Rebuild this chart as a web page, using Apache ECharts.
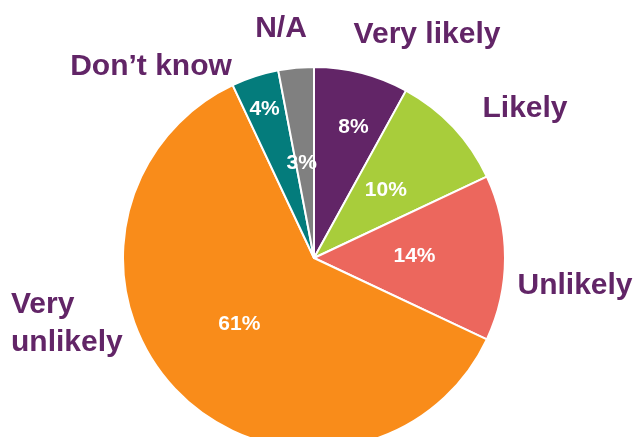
<!DOCTYPE html>
<html>
<head>
<meta charset="utf-8">
<script src="https://cdn.jsdelivr.net/npm/echarts@6/dist/echarts.min.js"></script>
<style>
  html, body { margin: 0; padding: 0; background: #fff; }
  #chart { width: 634px; height: 437px; }
</style>
</head>
<body>
<div id="chart"></div>
<script>
// answers, clockwise from 12 o'clock
const categories = ['Very likely', 'Likely', 'Unlikely', 'Very\nunlikely', 'Don\u2019t know', 'N/A']
const shares = [8, 10, 14, 61, 4, 3]
const colors = ['#622567', '#a8cd3b', '#ec675d', '#f98c1a', '#047c7c', '#808080']

// where the category names sit (text only, not marks)
const nameSpots = [
  { x: 427, y: 35, align: 'center' },
  { x: 525, y: 109, align: 'center' },
  { x: 575, y: 286, align: 'center' },
  { x: 11, y: 324, align: 'left' },
  { x: 151, y: 67, align: 'center' },
  { x: 281, y: 29, align: 'center' }
]
// nudges for the % labels that sit further out
const pctNudge = [[15, -35], [0, 0], [2, -2], [-5, -3], [-19, -55], [-3, 3]]

const chart = echarts.init(document.getElementById('chart'))

const pieData = categories.map((name, i) => ({
  name: name,
  value: shares[i],
  itemStyle: { color: colors[i] }
}))

chart.setOption({
  backgroundColor: '#fff',
  animation: false,
  series: [{
    type: 'pie',
    center: [314, 258],
    radius: 191,
    startAngle: 90,
    clockwise: true,
    itemStyle: {
      borderColor: '#fff',
      borderWidth: 2
    },
    label: {
      show: true,
      position: 'inside',
      color: '#fff',
      fontFamily: 'Liberation Sans, Arial, sans-serif',
      fontWeight: 'bold',
      fontSize: 21,
      formatter(p) {
        return p.value + '%'
      }
    },
    labelLayout(p) {
      return { dx: pctNudge[p.dataIndex][0], dy: pctNudge[p.dataIndex][1] }
    },
    emphasis: { disabled: true },
    data: pieData
  }, {
    type: 'pie',
    center: [314, 258],
    radius: 191,
    startAngle: 90,
    clockwise: true,
    silent: true,
    z: 1,
    itemStyle: { color: 'rgba(0,0,0,0)' },
    label: {
      show: true,
      position: 'outside',
      overflow: 'none',
      color: '#622567',
      fontFamily: 'Liberation Sans, Arial, sans-serif',
      fontWeight: 'bold',
      fontSize: 30,
      lineHeight: 38,
      formatter: '{b}'
    },
    labelLine: { show: false },
    labelLayout(p) {
      const s = nameSpots[p.dataIndex]
      return { x: s.x, y: s.y, align: s.align, verticalAlign: 'middle' }
    },
    data: categories.map((name, i) => ({ name: name, value: shares[i] }))
  }]
})
</script>
</body>
</html>
